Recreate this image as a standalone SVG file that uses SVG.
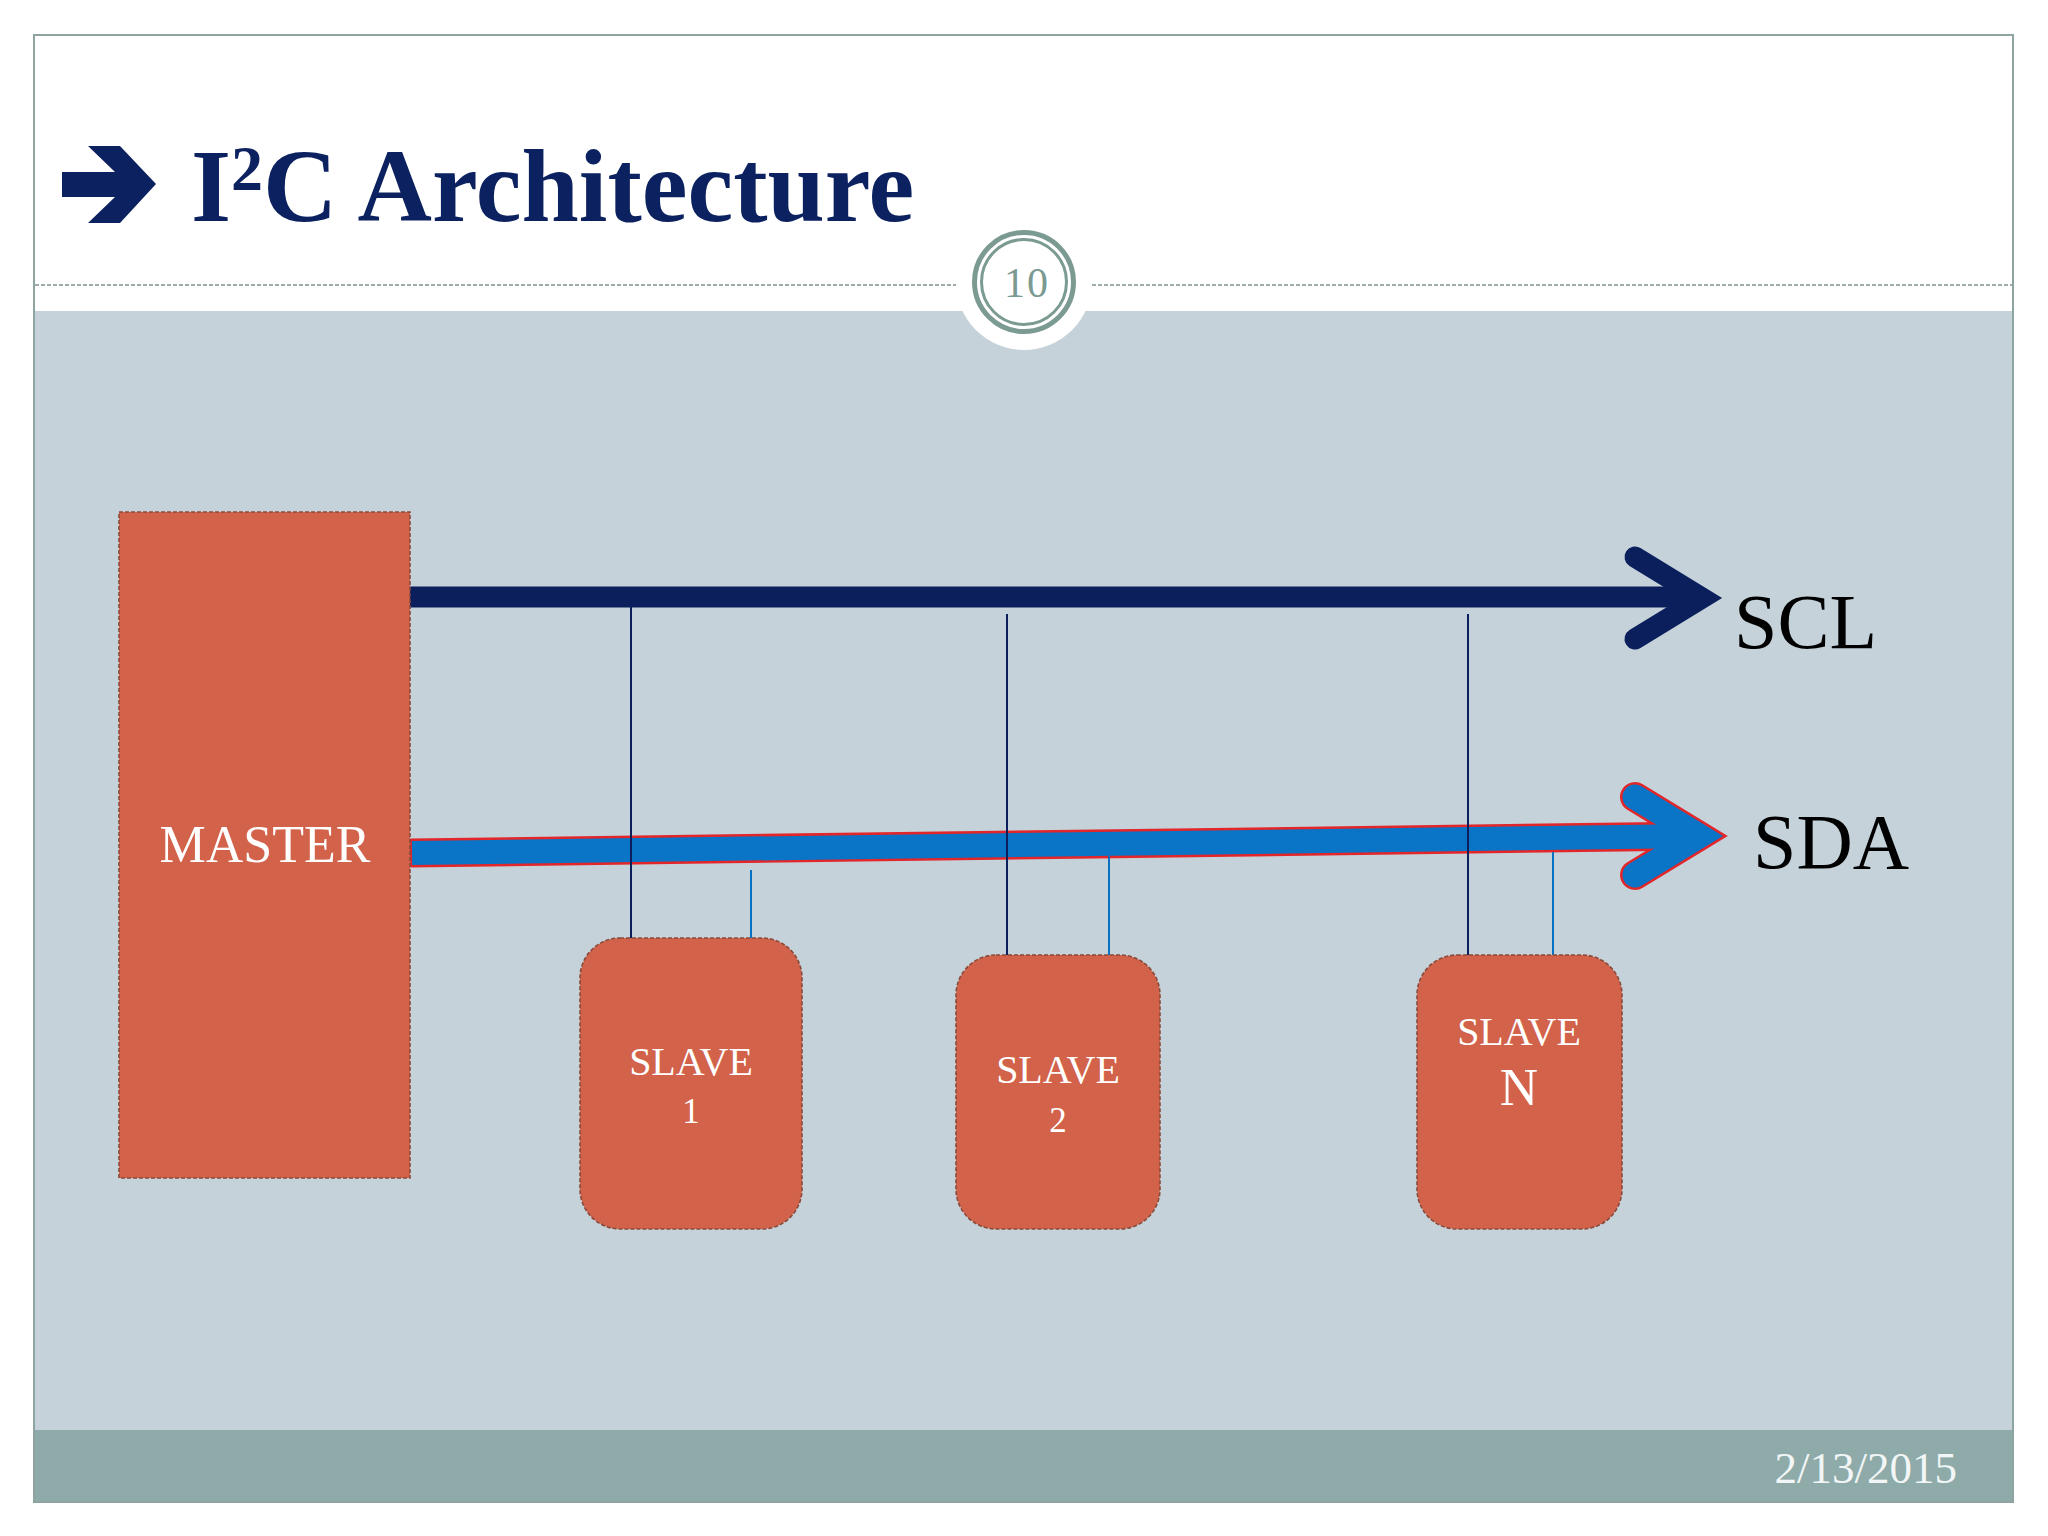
<svg xmlns="http://www.w3.org/2000/svg" width="2048" height="1536" viewBox="0 0 2048 1536">
<style>
.box{fill:#d2624a;stroke:#8a4a3a;stroke-width:1.6;stroke-dasharray:4 2}
.lbl{font-family:"Liberation Serif","Times New Roman",serif;fill:#ffffff;text-anchor:middle}
.bus{font-family:"Liberation Serif","Times New Roman",serif;fill:#000000;font-size:78px}
.scl{stroke:#0a1f5c;stroke-width:2;fill:none}
.sda{stroke:#0a70c0;stroke-width:2;fill:none}
</style>
<rect x="0" y="0" width="2048" height="1536" fill="#ffffff"/>
<g id="slide">
<rect x="34" y="311" width="1979" height="1119" fill="#c5d2d9"/>
<rect x="34" y="1430" width="1979" height="72" fill="#8eabaa"/>
<rect x="34" y="35" width="1979" height="1467" fill="none" stroke="#8ea4a1" stroke-width="2"/>
<line x1="35" y1="285" x2="957" y2="285" stroke="#7f9391" stroke-width="1.6" stroke-dasharray="4 2"/>
<line x1="1092" y1="285" x2="2012" y2="285" stroke="#7f9391" stroke-width="1.6" stroke-dasharray="4 2"/>
<circle cx="1024" cy="282" r="68" fill="#ffffff"/>
<circle cx="1024" cy="282" r="49.5" fill="none" stroke="#7b9a92" stroke-width="5"/>
<circle cx="1024" cy="282" r="42.5" fill="none" stroke="#7b9a92" stroke-width="3"/>
<text x="1027" y="297" font-family="Liberation Serif,serif" font-size="42" fill="#7b9a92" text-anchor="middle" letter-spacing="2">10</text>
<text x="1957" y="1483" font-family="Liberation Serif,serif" font-size="45" fill="#f2f6f6" text-anchor="end">2/13/2015</text>
</g>
<g id="title">
<polygon points="62,172 115,172 88,146 120,146 156,184 120,223 88,223 115,197 62,197" fill="#0c2160"/>
<text x="191" y="221" font-family="Liberation Serif,serif" font-weight="bold" font-size="103" fill="#0c2160">I<tspan font-size="64" dy="-31">2</tspan><tspan dy="31">C Architecture</tspan></text>
</g>
<g id="connectors">
<g id="scl-bus">
<line x1="410" y1="597" x2="1702" y2="597" stroke="#0a1f5c" stroke-width="21"/>
<polyline points="1635,557 1702,598 1635,639" fill="none" stroke="#0a1f5c" stroke-width="21" stroke-linecap="round" stroke-linejoin="miter"/>
</g>
<g id="sda-bus">
<line x1="410" y1="853" x2="1699" y2="836" stroke="#e3262a" stroke-width="29"/>
<polyline points="1635,797 1699,836 1635,875" fill="none" stroke="#e3262a" stroke-width="30" stroke-linecap="round" stroke-linejoin="miter"/>
<line x1="412" y1="853" x2="1699" y2="836" stroke="#0a74c6" stroke-width="24"/>
<polyline points="1635,797 1699,836 1635,875" fill="none" stroke="#0a74c6" stroke-width="25" stroke-linecap="round" stroke-linejoin="miter"/>
</g>
<line class="scl" x1="631" y1="607" x2="631" y2="938"/>
<line class="sda" x1="751" y1="870" x2="751" y2="938"/>
<line class="scl" x1="1007" y1="614" x2="1007" y2="955"/>
<line class="sda" x1="1109" y1="856" x2="1109" y2="955"/>
<line class="scl" x1="1468" y1="614" x2="1468" y2="955"/>
<line class="sda" x1="1553" y1="852" x2="1553" y2="955"/>
</g>
<g id="master">
<rect class="box" x="119" y="512" width="291" height="666"/>
<text class="lbl" x="265" y="862" font-size="52">MASTER</text>
</g>
<g id="slave1">
<rect class="box" x="580" y="938" width="222" height="291" rx="40" ry="40"/>
<text class="lbl" x="691" y="1075" font-size="40">SLAVE</text>
<text class="lbl" x="691" y="1123" font-size="35">1</text>
</g>
<g id="slave2">
<rect class="box" x="956" y="955" width="204" height="274" rx="40" ry="40"/>
<text class="lbl" x="1058" y="1083" font-size="40">SLAVE</text>
<text class="lbl" x="1058" y="1132" font-size="35">2</text>
</g>
<g id="slaveN">
<rect class="box" x="1417" y="955" width="205" height="274" rx="40" ry="40"/>
<text class="lbl" x="1519" y="1045" font-size="40">SLAVE</text>
<text class="lbl" x="1519" y="1105" font-size="53">N</text>
</g>
<text class="bus" x="1734" y="648">SCL</text>
<text class="bus" x="1753" y="868">SDA</text>
</svg>
